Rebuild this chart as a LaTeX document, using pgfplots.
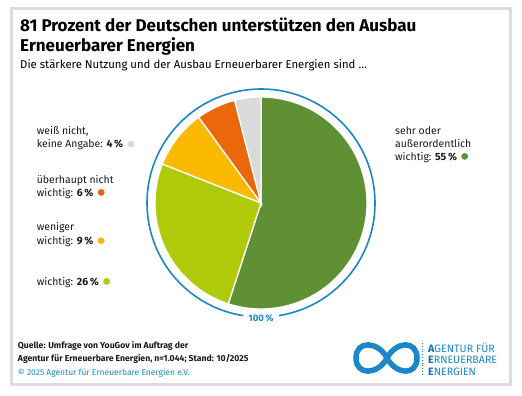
\documentclass[border=0pt]{standalone}
\usepackage{pgfplots}
\pgfplotsset{compat=1.18}
\usepackage{fontspec}
\setmainfont{Fira Sans}
\definecolor{cGreen}{HTML}{5F9034}
\definecolor{cLime}{HTML}{AFCA0B}
\definecolor{cYellow}{HTML}{FBBA00}
\definecolor{cOrange}{HTML}{EA670C}
\definecolor{cGrey}{HTML}{DADADA}
\definecolor{cBlue}{HTML}{1B87C9}
\definecolor{cBlueDark}{HTML}{0E6DB5}
\definecolor{cFrame}{HTML}{DCDCDC}
\definecolor{cText}{HTML}{1A1A1A}
\begin{document}
\begin{tikzpicture}[x=1bp,y=1bp]
\useasboundingbox (0,0) rectangle (522,395);
\fill[white] (0,0) rectangle (522,395);
\draw[cFrame, line width=3bp] (11.5,10.5) rectangle (510.5,386.5);
% titles
\node[anchor=base west, inner sep=0pt, font=\fontsize{17.1}{20}\selectfont\bfseries] at (20,395-31.7) {81 Prozent der Deutschen unterstützen den Ausbau};
\node[anchor=base west, inner sep=0pt, font=\fontsize{17.1}{20}\selectfont\bfseries] at (20,395-51) {Erneuerbarer Energien};
\node[anchor=base west, inner sep=0pt, font=\fontsize{11.4}{13}\selectfont] at (20,395-68.5) {Die stärkere Nutzung und der Ausbau Erneuerbarer Energien sind \dots};
% pie: axis box = whole canvas, data units = bp; centre (261,192), radius 106
\begin{axis}[at={(0,0)}, anchor=south west, x=1bp, y=1bp, hide axis,
  xmin=0, xmax=522, ymin=0, ymax=395, clip=false]
% 55 %
\addplot[fill=cGreen, draw=white, line width=1.3bp] coordinates {(261,192) (261,298)} arc[start angle=90, end angle=-108, radius=106bp] -- cycle;
% 26 %
\addplot[fill=cLime, draw=white, line width=1.3bp] coordinates {(261,192) (228.24,91.18)} arc[start angle=-108, end angle=-201.6, radius=106bp] -- cycle;
% 9 %
\addplot[fill=cYellow, draw=white, line width=1.3bp] coordinates {(261,192) (162.44,231.02)} arc[start angle=-201.6, end angle=-234, radius=106bp] -- cycle;
% 6 %
\addplot[fill=cOrange, draw=white, line width=1.3bp] coordinates {(261,192) (198.69,277.75)} arc[start angle=-234, end angle=-255.6, radius=106bp] -- cycle;
% 4 %
\addplot[fill=cGrey, draw=white, line width=1.3bp] coordinates {(261,192) (234.64,294.67)} arc[start angle=-255.6, end angle=-270, radius=106bp] -- cycle;
\end{axis}
% ring
\draw[cBlue, line width=1.6bp] (261,192) ++(-81:114) arc[start angle=-81, end angle=261, radius=114];
\node[anchor=base, inner sep=0pt, text=cBlue, font=\fontsize{9.5}{10}\selectfont\bfseries] at (261,395-321.5) {100\,\%};
% left labels
\begin{scope}[every node/.style={anchor=base west, inner sep=0pt, text=cText, font=\fontsize{10.5}{12}\selectfont}]
\node at (36.7,395-134.7) {weiß nicht,};
\node (l1) at (36.7,395-147.7) {keine Angabe: \textbf{4\,\%}};
\node at (36.7,395-183.3) {überhaupt nicht};
\node (l2) at (36.7,395-196) {wichtig: \textbf{6\,\%}};
\node at (36.7,395-230.7) {weniger};
\node (l3) at (36.7,395-244.3) {wichtig: \textbf{9\,\%}};
\node (l4) at (36.7,395-285) {wichtig: \textbf{26\,\%}};
\node at (395,395-134) {sehr oder};
\node at (395,395-147) {außerordentlich};
\node (r1) at (395,395-160) {wichtig: \textbf{55\,\%}};
\end{scope}
\fill[cGrey] ([xshift=7.5bp,yshift=3.6bp]l1.base east) circle[radius=3.4];
\fill[cOrange] ([xshift=7.5bp,yshift=3.6bp]l2.base east) circle[radius=3.4];
\fill[cYellow] ([xshift=7.5bp,yshift=3.6bp]l3.base east) circle[radius=3.4];
\fill[cLime] ([xshift=7.5bp,yshift=3.6bp]l4.base east) circle[radius=3.4];
\fill[cGreen] ([xshift=7.5bp,yshift=3.6bp]r1.base east) circle[radius=3.4];
% footer
\begin{scope}[every node/.style={anchor=base west, inner sep=0pt, text=cText, font=\fontsize{8.7}{10}\selectfont\bfseries}]
\node at (17.7,395-348.7) {Quelle: Umfrage von YouGov im Auftrag der};
\node at (17.7,395-361.3) {Agentur für Erneuerbare Energien, n=1.044; Stand: 10/2025};
\end{scope}
\node[anchor=base west, inner sep=0pt, text=cBlue, font=\fontsize{8.5}{10}\selectfont] at (17.7,395-375.3) {© 2025 Agentur für Erneuerbare Energien e.V.};
% logo
\draw[cBlue, line width=5.5bp] (387,395-358) .. controls (396,395-341) and (417,395-340) .. (417,395-358) .. controls (417,395-376) and (396,395-375) .. (387,395-358) .. controls (378,395-341) and (356,395-340) .. (356,395-358) .. controls (356,395-376) and (378,395-375) .. (387,395-358);
\draw[cBlue, line width=0.8bp, dotted] (422.5,395-343) -- (422.5,395-375);
\begin{scope}[every node/.style={anchor=base west, inner sep=0pt, text=cBlue, font=\fontsize{10.7}{12}\selectfont}]
\node at (428,395-352.3) {\textcolor{cBlueDark}{\bfseries A}GENTUR FÜR};
\node at (428,395-363.6) {\textcolor{cBlueDark}{\bfseries E}RNEUERBARE};
\node at (428,395-375) {\textcolor{cBlueDark}{\bfseries E}NERGIEN};
\end{scope}
\end{tikzpicture}
\end{document}
